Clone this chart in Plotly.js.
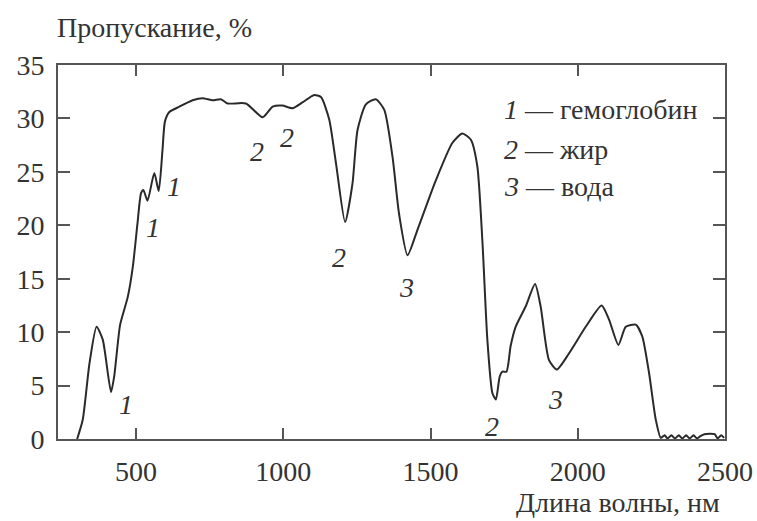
<!DOCTYPE html>
<html>
<head>
<meta charset="utf-8">
<script src="https://cdn.plot.ly/plotly-3.0.1.min.js"></script>
<style>html,body{margin:0;padding:0;background:#fff;}#chart{width:757px;height:521px;}</style>
</head>
<body>
<div id="chart"></div>
<script>
// Wavelength, nm
const wavelength = [300,319,342,366,387,415,426,446,472,489,505,517,525,539,562,577,590,598,613,647,692,726,760,788,811,873,930,964,997,1031,1065,1105,1128,1156,1179,1210,1235,1252,1280,1314,1343,1371,1393,1422,1456,1518,1574,1608,1637,1659,1676,1693,1710,1722,1735,1744,1758,1772,1789,1823,1855,1874,1902,1929,1970,2027,2081,2106,2138,2163,2197,2219,2242,2265,2282,2295,2305,2318,2330,2343,2355,2368,2380,2393,2405,2418,2430,2450,2465,2475,2487,2497];
// Transmission, %
const transmission = [0,1.8,7.1,10.5,9.3,4.4,5.9,10.7,13.3,16.1,20.2,23.0,23.3,22.3,24.9,23.2,27.1,29.7,30.6,31.1,31.7,31.9,31.7,31.8,31.4,31.4,30.1,31.1,31.2,30.95,31.5,32.2,32.0,29.9,25.8,20.3,23.9,28.9,31.3,31.8,30.8,26.4,21.1,17.2,19.6,24.2,27.7,28.6,28.0,25.5,18.6,9.3,4.3,3.7,5.85,6.3,6.3,8.7,10.5,12.4,14.5,12.4,7.4,6.5,8.0,10.5,12.5,11.2,8.8,10.5,10.7,9.6,6.2,1.8,0.1,0.35,0.05,0.35,0.05,0.35,0.05,0.35,0.05,0.35,0.05,0.3,0.45,0.5,0.45,0.05,0.35,0.1];

// Band labels (1 - hemoglobin, 2 - fat, 3 - water)
const bandLabels = ['1','1','1','2','2','2','3','2','3'];
const bandX = [467,559,630,912,1013,1190,1417,1709,1926];
const bandY = [3.2,19.8,23.6,26.9,28.2,17.0,14.2,1.15,3.7];

// Legend texts
const legendNums = ['1','2','3'];
const legendNames = ['гемоглобин','жир','вода'];

const xTicks = [500,1000,1500,2000,2500];
const yTicks = [0,5,10,15,20,25,30,35];

const yTitle = 'Пропускание, %';
const xTitle = 'Длина волны, нм';

const FONT = 'Liberation Serif, Times New Roman, serif';
const TXT = '#333';

const annotations = [];
bandLabels.forEach((t,i)=>{
  annotations.push({x:bandX[i], y:bandY[i], xref:'x', yref:'y', text:'<i>'+t+'</i>', showarrow:false,
    xanchor:'center', yanchor:'middle', font:{family:FONT, size:28, color:TXT}});
});
const legY = [30.8,27.1,23.6];
legendNums.forEach((n,i)=>{
  annotations.push({x:1743, y:legY[i], xref:'x', yref:'y', text:'<i>'+n+'</i> — '+legendNames[i], showarrow:false,
    xanchor:'left', yanchor:'middle', font:{family:FONT, size:28, color:TXT}});
});
annotations.push({x:-0.005, y:1.10, xref:'paper', yref:'paper', text:yTitle, showarrow:false,
  xanchor:'left', yanchor:'middle', font:{family:FONT, size:28, color:TXT}});
annotations.push({x:0.9955, y:-0.171, xref:'paper', yref:'paper', text:xTitle, showarrow:false,
  xanchor:'right', yanchor:'middle', font:{family:FONT, size:28, color:TXT}});

const trace = {x:wavelength, y:transmission, type:'scatter', mode:'lines',
  line:{color:'#2a2a2a', width:2, shape:'spline', smoothing:0.6}, hoverinfo:'skip'};

const layout = {
  width:757, height:521,
  margin:{l:58, r:32, t:65, b:82},
  paper_bgcolor:'#fff', plot_bgcolor:'#fff',
  showlegend:false,
  font:{family:FONT, size:28, color:TXT},
  xaxis:{range:[235,2500], tickvals:xTicks, ticktext:xTicks.map(String), ticks:'inside', ticklen:11, tickwidth:2,
    tickcolor:'#555', showline:true, linecolor:'#555', linewidth:2, mirror:'ticks', showgrid:false, zeroline:false,
    tickfont:{family:FONT, size:28, color:TXT}, ticklabelstandoff:6},
  yaxis:{range:[0,35], tickvals:yTicks, ticktext:yTicks.map(String), ticks:'inside', ticklen:12, tickwidth:2,
    tickcolor:'#555', showline:true, linecolor:'#555', linewidth:2, mirror:'ticks', showgrid:false, zeroline:false,
    tickfont:{family:FONT, size:28, color:TXT}, ticklabelstandoff:6},
  annotations:annotations
};
Plotly.newPlot('chart',[trace],layout,{displayModeBar:false, staticPlot:true});
</script>
</body>
</html>
